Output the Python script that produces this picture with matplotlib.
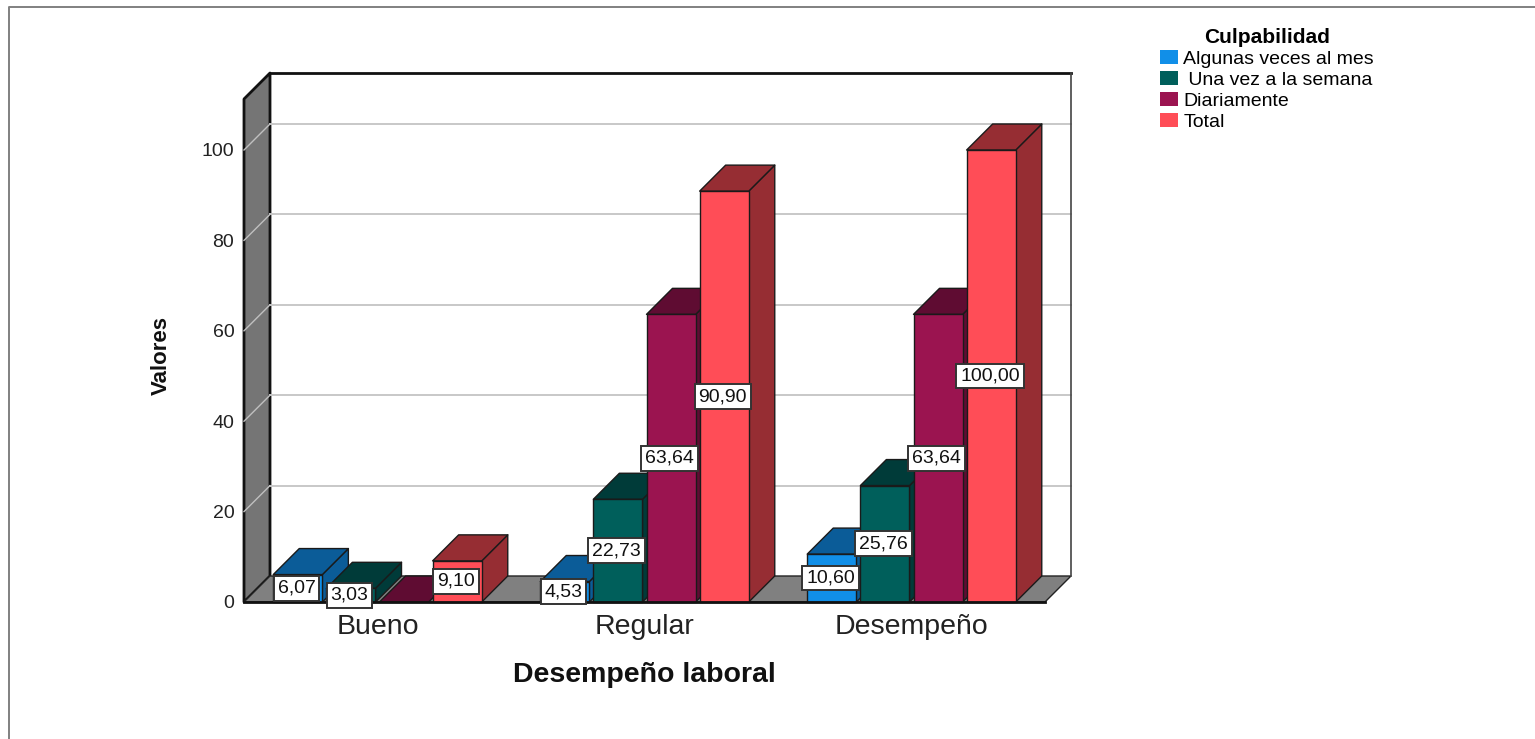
"""Barras 3D estilo SPSS: Culpabilidad por desempeño laboral."""

import matplotlib
matplotlib.use("Agg")
import matplotlib.pyplot as plt
from matplotlib.lines import Line2D
from matplotlib.patches import Patch, Polygon

plt.rcParams["font.family"] = ["Liberation Sans", "DejaVu Sans"]

categorias = ["Bueno", "Regular", "Desempeño"]
algunas_veces = [6.07, 4.53, 10.60]
una_vez = [3.03, 22.73, 25.76]
diariamente = [0.0, 63.64, 63.64]
total = [9.10, 90.90, 100.00]
series_nombres = ["Algunas veces al mes", " Una vez a la semana", "Diariamente", "Total"]
y_ticks = [0, 20, 40, 60, 80, 100]

# (frente, techo, lateral)
COLORES = [
    ("#118fe8", "#0b5c98", "#0b5c98"),
    ("#005f5b", "#003b39", "#003b39"),
    ("#9b1450", "#5f0c32", "#5f0c32"),
    ("#ff4d57", "#962d33", "#962d33"),
]
EDGE = "#1a1a1a"
W, H = 1535, 739
X0, X1, Y0, Y_TOP = 244, 1045, 602, 99   # marco frontal en píxeles
PX_Y = 4.52                               # píxeles por unidad de valor
YMAX = (Y0 - Y_TOP) / PX_Y
DX = 26 / ((X1 - X0) / 3)                 # profundidad en unidades de datos
DY = 26 / PX_Y
BAR_W = 0.184
PASO = 0.199


def poly(ax, pts, color, z, edge=EDGE, lw=1.0):
    ax.add_patch(Polygon(pts, closed=True, facecolor=color, edgecolor=edge,
                         linewidth=lw, zorder=z, clip_on=False, joinstyle="round"))


def barra(ax, x, v, colores, z):
    frente, techo, lado = colores
    l, r = x - BAR_W / 2, x + BAR_W / 2
    poly(ax, [(r, 0), (r + DX, DY), (r + DX, v + DY), (r, v)], lado, z)
    poly(ax, [(l, v), (l + DX, v + DY), (r + DX, v + DY), (r, v)], techo, z)
    if v > 0:
        poly(ax, [(l, 0), (r, 0), (r, v), (l, v)], frente, z)


fig = plt.figure(figsize=(W / 100, H / 100), dpi=100, facecolor="white")
ax = fig.add_axes([X0 / W, 1 - Y0 / H, (X1 - X0) / W, (Y0 - Y_TOP) / H])
ax.patch.set_visible(False)
ax.set_xlim(-0.5, 2.5)
ax.set_ylim(0, YMAX)
for s in ax.spines.values():
    s.set_visible(False)

# paredes y suelo
poly(ax, [(-0.5, 0), (-0.5, YMAX), (-0.5 + DX, YMAX + DY), (-0.5 + DX, DY)], "#757575", 1, "#111111", 2)
poly(ax, [(-0.5, 0), (-0.5 + DX, DY), (2.5 + DX, DY), (2.5, 0)], "#808080", 1, "#222222", 1)
ax.add_line(Line2D([-0.5 + DX, 2.5 + DX], [YMAX + DY, YMAX + DY], color="#111111", lw=2, clip_on=False, zorder=2))
ax.add_line(Line2D([2.5 + DX, 2.5 + DX], [DY, YMAX + DY], color="#444444", lw=1.2, clip_on=False, zorder=2))
ax.add_line(Line2D([-0.5, 2.5], [0, 0], color="#111111", lw=2, clip_on=False, zorder=9))

# rejilla
for t in y_ticks[1:]:
    ax.add_line(Line2D([-0.5 + DX, 2.5 + DX], [t + DY, t + DY], color="#c8c8c8", lw=1.4, clip_on=False, zorder=1.5))
    ax.add_line(Line2D([-0.5, -0.5 + DX], [t, t + DY], color="#c0c0c0", lw=1.0, clip_on=False, zorder=1.5))

# barras y etiquetas
series = [algunas_veces, una_vez, diariamente, total]
for i_cat in range(len(categorias)):
    for i_ser, valores in enumerate(series):
        x = i_cat + (i_ser - 1.5) * PASO
        v = valores[i_cat]
        barra(ax, x, v, COLORES[i_ser], 3 + i_ser * 0.1 + i_cat)
        if v > 0:
            ax.text(x - 0.005, v / 2, f"{v:.2f}".replace(".", ","), ha="center", va="center",
                    fontsize=14, color="#111111", zorder=20,
                    bbox=dict(boxstyle="square,pad=0.2", facecolor="white", edgecolor="#333333", linewidth=1.4))

ax.set_yticks(y_ticks)
ax.set_xticks(range(len(categorias)))
ax.set_xticklabels(categorias, fontsize=20.5, color="#222222")
ax.tick_params(axis="x", length=0, pad=9)
ax.tick_params(axis="y", length=0, pad=7, labelsize=14, labelcolor="#222222")

ax.set_xlabel("Desempeño laboral", fontsize=20.5, fontweight="bold", color="#111111")
ax.xaxis.set_label_coords(0.5, -0.12)
ax.set_ylabel("Valores", fontsize=16, fontweight="bold", color="#111111")
ax.yaxis.set_label_coords(-0.09, 0.49)

# leyenda
handles = [Patch(facecolor=c[0], edgecolor="none") for c in COLORES]
leg = fig.legend(handles, series_nombres, title="Culpabilidad", frameon=False,
                 loc="upper left", bbox_to_anchor=(1160 / W, 1 - 28 / H), borderaxespad=0,
                 borderpad=0, fontsize=14, handlelength=0.93, handleheight=0.72,
                 handletextpad=0.26, labelspacing=0.17,
                 title_fontproperties={"weight": "bold", "size": 15})

# marco exterior
fig.add_artist(Line2D([9 / W, 9 / W, 1], [0, 1 - 7 / H, 1 - 7 / H], color="#808080", lw=1.4))

fig.savefig("out.png", dpi=100)
